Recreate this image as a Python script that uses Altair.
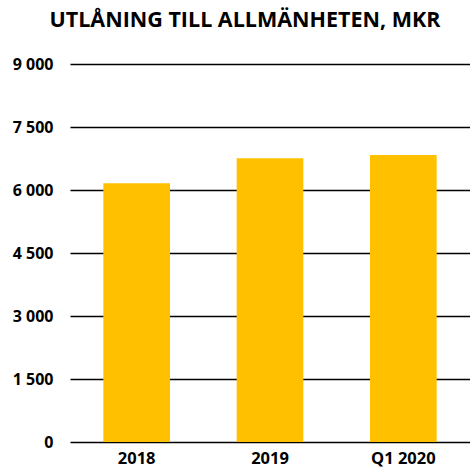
import altair as alt
import pandas as pd

categories = ["2018", "2019", "Q1 2020"]
values = [6160, 6755, 6835]
y_ticks = [0, 1500, 3000, 4500, 6000, 7500, 9000]

df = pd.DataFrame({"cat": categories, "val": values})

chart = alt.Chart(df).mark_bar(color="#FFC000").encode(
    x=alt.X("cat:N", sort=categories, title=None,
            scale=alt.Scale(paddingInner=0.5, paddingOuter=0.25),
            axis=alt.Axis(labelAngle=0, domain=False, ticks=False, labelPadding=8,
                          labelFont="Open Sans", labelFontWeight="bold", labelFontSize=16.5,
                          labelColor="#000000")),
    y=alt.Y("val:Q", title=None,
            scale=alt.Scale(domain=[0, 9000], nice=False),
            axis=alt.Axis(values=y_ticks, domain=False, ticks=False, labelPadding=17,
                          grid=True, gridColor="#000000", gridWidth=1.6,
                          labelExpr="replace(format(datum.value, ','), ',', ' ')",
                          labelFont="Open Sans", labelFontWeight="bold", labelFontSize=16,
                          labelColor="#000000")),
).properties(
    width=400, height=378,
    title=alt.TitleParams("UTLÅNING TILL ALLMÄNHETEN, MKR", font="Open Sans",
                          fontWeight="bold", fontSize=21.5, color="#000000",
                          anchor="middle", offset=25, dx=-25),
    autosize=alt.AutoSizeParams(type="none"),
    padding={"left": 70, "top": 64, "right": 0, "bottom": 33},
).configure_view(stroke=None).configure_axis(gridOpacity=1)

chart.save("out.html", embed_options={"renderer": "svg", "actions": False})
